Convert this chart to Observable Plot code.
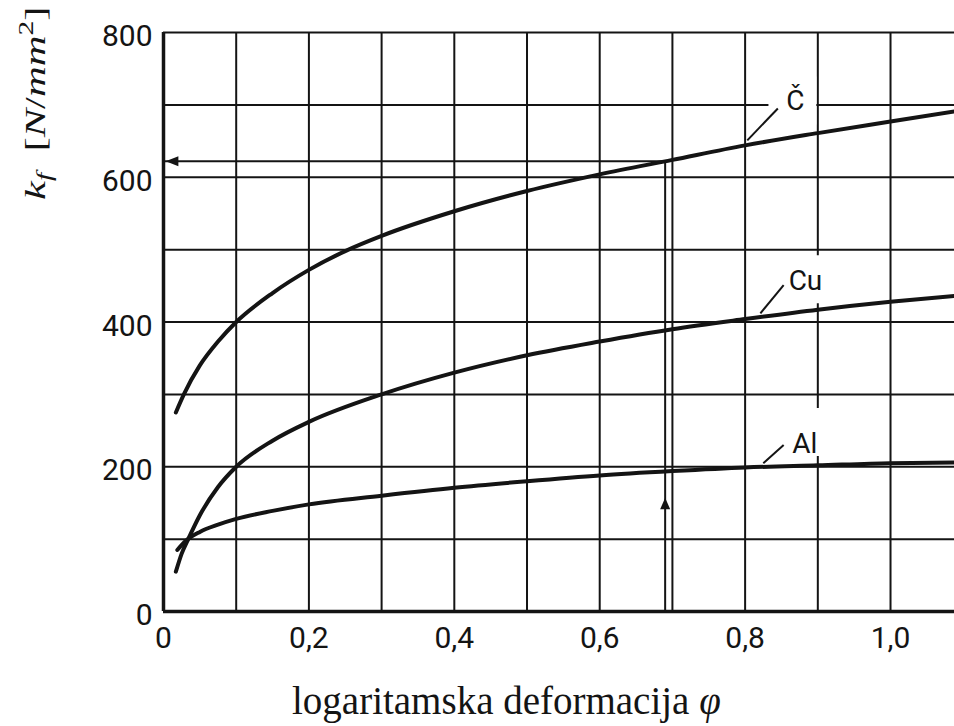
<!DOCTYPE html>
<html>
<head>
<meta charset="utf-8">
<script src="https://cdn.jsdelivr.net/npm/d3@7"></script>
<script src="https://cdn.jsdelivr.net/npm/@observablehq/plot@0.6"></script>
<style>
  body { margin: 0; background: #fff; }
  svg { display: block; }
</style>
</head>
<body>
<div id="chart"></div>
<script>
// ---- data ----
const cX  = [0.017, 0.028, 0.05, 0.075, 0.1, 0.15, 0.2, 0.25, 0.3, 0.4, 0.5, 0.6, 0.7, 0.8, 0.9, 1.0, 1.088];
const cY  = [275, 300, 340, 373, 400, 440, 472, 498, 519, 553, 581, 604, 624, 644, 661, 677, 691];
const cuX = [0.017, 0.025, 0.034, 0.05, 0.075, 0.1, 0.15, 0.2, 0.3, 0.4, 0.5, 0.6, 0.7, 0.8, 0.9, 1.0, 1.088];
const cuY = [55, 80, 100, 133, 172, 200, 236, 262, 300, 330, 354, 373, 390, 404, 417, 428, 436];
const alX = [0.019, 0.03, 0.05, 0.075, 0.1, 0.15, 0.2, 0.3, 0.4, 0.5, 0.6, 0.7, 0.8, 0.9, 1.0, 1.088];
const alY = [85, 97, 110, 120, 128, 139, 148, 160, 171, 180, 188, 194, 199, 202, 205, 206];

const xGrid  = [0.1, 0.2, 0.3, 0.4, 0.5, 0.6, 0.7, 0.8, 0.9, 1.0];
const yGrid  = [100, 200, 300, 400, 500, 600, 700, 800];
const xTicks = [0, 0.2, 0.4, 0.6, 0.8, 1.0];
const yTicks = [0, 200, 400, 600, 800];

const seriesNames = ["Č", "Cu", "Al"];
const labelX = [0.869, 0.883, 0.882];
const labelY = [705, 457, 232];
// white boxes that interrupt the grid behind each label
const boxX = [0.865, 0.88, 0.88];
const boxY = [706, 459, 248];
// leader lines from curve to label
const leadX1 = [0.803, 0.821, 0.825];
const leadY1 = [651, 412, 205];
const leadX2 = [0.845, 0.853, 0.853];
const leadY2 = [695, 451, 230];

// reading example: φ = 0.69 -> kf ≈ 622 on Č
const readPhi = 0.69;
const readKf = 622;
const upArrowKf = 157;

// ---- build tables ----
const toPts = (xs, ys) => xs.map((x, i) => ({x, y: ys[i]}));
const cPts = toPts(cX, cY), cuPts = toPts(cuX, cuY), alPts = toPts(alX, alY);
const labels = seriesNames.map((t, i) => ({t, x: labelX[i], y: labelY[i]}));
const boxes = seriesNames.map((t, i) => ({x: boxX[i], y: boxY[i]}));
const leaders = seriesNames.map((t, i) => ({x1: leadX1[i], y1: leadY1[i], x2: leadX2[i], y2: leadY2[i]}));
const readLines = [
  {x1: readPhi, y1: readKf, x2: 0, y2: readKf},
  {x1: readPhi, y1: 0, x2: readPhi, y2: readKf}
];
const heads = [
  {x: 0.003, y: readKf, rotate: -90, length: 18},
  {x: readPhi, y: upArrowKf, rotate: 0, length: 16}
];

const ink = "#141414";
const fmt = d => d === 0 ? "0" : d.toFixed(1).replace(".", ",");

const chart = Plot.plot({
  width: 954,
  height: 726,
  marginLeft: 163,
  marginTop: 32,
  marginRight: 0,
  marginBottom: 115,
  x: {domain: [0, 1.088]},
  y: {domain: [0, 800]},
  style: {background: "white", fontFamily: "Roboto", fontSize: "30px", color: ink},
  marks: [
    Plot.ruleX(xGrid, {stroke: ink, strokeWidth: 2}),
    Plot.ruleY(yGrid, {stroke: ink, strokeWidth: 2}),
    Plot.ruleX([0], {stroke: ink, strokeWidth: 3.5}),
    Plot.ruleY([0], {stroke: ink, strokeWidth: 3.5}),
    Plot.dot(boxes, {x: "x", y: "y", symbol: "square", r: 27, fill: "white", stroke: "none"}),
    Plot.text(labels, {x: "x", y: "y", text: "t", fontSize: 28, fill: ink}),
    Plot.link(leaders, {x1: "x1", y1: "y1", x2: "x2", y2: "y2", stroke: ink, strokeWidth: 2}),
    Plot.line(cPts, {x: "x", y: "y", curve: "monotone-x", stroke: ink, strokeWidth: 4}),
    Plot.line(cuPts, {x: "x", y: "y", curve: "monotone-x", stroke: ink, strokeWidth: 4}),
    Plot.line(alPts, {x: "x", y: "y", curve: "monotone-x", stroke: ink, strokeWidth: 4}),
    Plot.link(readLines, {x1: "x1", y1: "y1", x2: "x2", y2: "y2", stroke: ink, strokeWidth: 2}),
    Plot.vector(heads, {x: "x", y: "y", rotate: "rotate", length: "length", r: 5, shape: "spike", anchor: "end", fill: ink, stroke: "none"}),
    Plot.axisX({ticks: xTicks, tickSize: 0, tickPadding: 15, tickFormat: fmt, fontSize: 30, label: null}),
    Plot.axisY({ticks: yTicks, tickSize: 0, tickPadding: 11, dy: 4, fontSize: 30, label: null})
  ]
});

document.getElementById("chart").appendChild(chart);

const svg = d3.select(chart);
// y-axis label: k_f [N/mm^2]
const yl = svg.append("text")
  .attr("transform", "translate(45,200) rotate(-90) scale(1.42,1)")
  .attr("text-anchor", "start")
  .attr("font-family", "'Liberation Serif', 'DejaVu Serif', serif")
  .attr("font-size", 30)
  .attr("fill", ink);
yl.append("tspan").attr("font-style", "italic").text("k");
yl.append("tspan").attr("font-style", "italic").attr("font-size", 21).attr("dy", 6).text("f");
yl.append("tspan").attr("dy", -6).text("\u2002[");
yl.append("tspan").attr("font-style", "italic").text("N");
yl.append("tspan").text("/");
yl.append("tspan").attr("font-style", "italic").text("mm");
yl.append("tspan").attr("font-size", 21).attr("dy", -12).text("2");
yl.append("tspan").attr("dy", 12).text("]");

// x-axis label
const xl = svg.append("text")
  .attr("x", 292).attr("y", 714)
  .attr("text-anchor", "start")
  .attr("font-family", "'Liberation Serif', 'DejaVu Serif', serif")
  .attr("font-size", 39)
  .attr("fill", ink);
xl.append("tspan").text("logaritamska deformacija ");
xl.append("tspan").attr("font-style", "italic").text("φ");
</script>
</body>
</html>
